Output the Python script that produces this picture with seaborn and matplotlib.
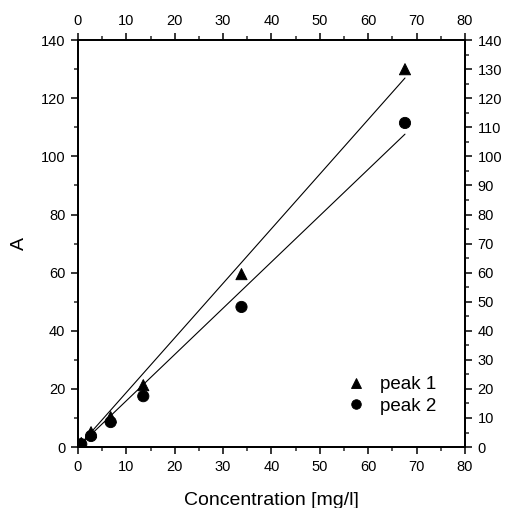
import numpy as np
import pandas as pd
import matplotlib
matplotlib.use("Agg")
import matplotlib.pyplot as plt
from matplotlib.ticker import MultipleLocator
import seaborn as sns

# calibration data
conc = [0.68, 2.7, 6.76, 13.5, 33.8, 67.6]
peak1 = [1.4, 5.1, 10.3, 21.3, 59.5, 130.0]
peak2 = [1.0, 3.8, 8.6, 17.5, 48.2, 111.5]

df = pd.DataFrame({
    "conc": conc * 2,
    "A": peak1 + peak2,
    "peak": ["peak 1"] * len(conc) + ["peak 2"] * len(conc),
})

sns.set_theme(style="ticks")
plt.rcParams["font.family"] = ["Liberation Sans", "DejaVu Sans"]
plt.rcParams["text.color"] = "black"
plt.rcParams["axes.labelcolor"] = "black"

fig = plt.figure(figsize=(5.07, 5.08), dpi=100)
ax = fig.add_axes([0.1538, 0.120, 0.7633, 0.801])

# linear fits through origin, drawn over the data range
for vals in (peak1, peak2):
    x = np.array(conc)
    y = np.array(vals)
    k = (x * y).sum() / (x * x).sum()
    xs = np.array([x.min(), x.max()])
    sns.lineplot(x=xs, y=k * xs, ax=ax, color="black", linewidth=0.8)

sns.scatterplot(data=df, x="conc", y="A", style="peak",
                markers={"peak 1": "^", "peak 2": "o"},
                color="black", edgecolor="black", s=65, ax=ax, zorder=3)

ax.set_xlim(0, 80)
ax.set_ylim(0, 140)
ax.xaxis.set_major_locator(MultipleLocator(10))
ax.xaxis.set_minor_locator(MultipleLocator(5))
ax.yaxis.set_major_locator(MultipleLocator(20))
ax.yaxis.set_minor_locator(MultipleLocator(10))
ax.set_xlabel("Concentration [mg/l]", fontsize=14, labelpad=13)
ax.set_ylabel("A", fontsize=14, labelpad=9)

top = ax.twiny()
top.set_xlim(0, 80)
top.xaxis.set_major_locator(MultipleLocator(10))
top.xaxis.set_minor_locator(MultipleLocator(5))

right = ax.twinx()
right.set_ylim(0, 140)
right.yaxis.set_major_locator(MultipleLocator(10))
right.yaxis.set_minor_locator(MultipleLocator(5))

for a in (ax, top, right):
    for s in a.spines.values():
        s.set_visible(True)
        s.set_linewidth(1.2)
        s.set_color("black")
    a.tick_params(which="major", direction="out", length=5, width=1.1,
                  labelsize=10.5, colors="black", pad=4)
    a.tick_params(which="minor", direction="out", length=3, width=1.1)
    a.grid(False)

leg = ax.legend(loc="lower right", bbox_to_anchor=(0.97, 0.038), frameon=False,
                fontsize=13.5, handletextpad=0.5, labelspacing=0.22,
                handlelength=1.6, markerscale=0.85, title=None)

fig.savefig("out.png", dpi=100)
